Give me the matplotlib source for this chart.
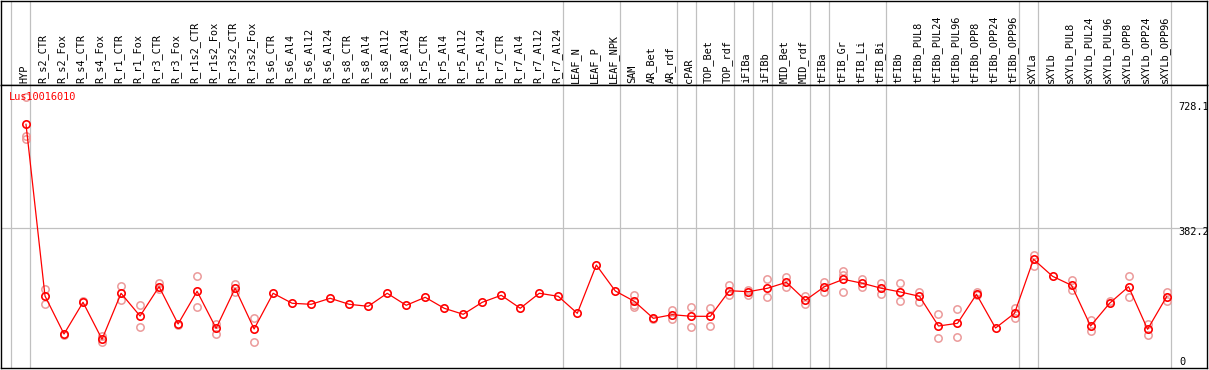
import matplotlib.pyplot as plt
from matplotlib import transforms

W, H, DPI = 1209, 370, 100

GENE = "Lus10016010"

SAMPLES = [
    "HYP", "R_s2_CTR", "R_s2_Fox", "R_s4_CTR", "R_s4_Fox", "R_r1_CTR", "R_r1_Fox",
    "R_r3_CTR", "R_r3_Fox", "R_r1s2_CTR", "R_r1s2_Fox", "R_r3s2_CTR", "R_r3s2_Fox",
    "R_s6_CTR", "R_s6_Al4", "R_s6_Al12", "R_s6_Al24", "R_s8_CTR", "R_s8_Al4",
    "R_s8_Al12", "R_s8_Al24", "R_r5_CTR", "R_r5_Al4", "R_r5_Al12", "R_r5_Al24",
    "R_r7_CTR", "R_r7_Al4", "R_r7_Al12", "R_r7_Al24", "LEAF_N", "LEAF_P", "LEAF_NPK",
    "SAM", "AR_Bet", "AR_rdf", "cPAR", "TOP_Bet", "TOP_rdf", "iFIBa", "iFIBb",
    "MID_Bet", "MID_rdf", "tFIBa", "tFIB_Gr", "tFIB_Li", "tFIB_Bi", "tFIBb",
    "tFIBb_PUL8", "tFIBb_PUL24", "tFIBb_PUL96", "tFIBb_OPP8", "tFIBb_OPP24",
    "tFIBb_OPP96", "sXYLa", "sXYLb", "sXYLb_PUL8", "sXYLb_PUL24", "sXYLb_PUL96",
    "sXYLb_OPP8", "sXYLb_OPP24", "sXYLb_OPP96",
]

# mean expression per sample
MEAN = [
    656.8, 203.4, 103.1, 186.8, 89.1, 210.6, 150.6, 228.0, 129.5, 215.8,
    118.1, 223.8, 116.3, 210.6, 184.2, 181.5, 197.4, 181.5, 176.2, 210.6,
    178.9, 200.0, 171.0, 155.1, 186.8, 205.3, 171.0, 210.6, 202.6, 157.7,
    285.3, 216.6, 189.4, 144.5, 154.1, 149.8, 149.8, 217.4, 214.8, 223.8,
    239.6, 192.1, 228.0, 247.5, 237.0, 223.8, 214.0, 202.6, 124.2, 131.3,
    207.9, 118.9, 157.7, 300.3, 255.5, 231.7, 124.2, 184.2, 228.0, 115.5,
    201.6,
]

# individual replicates (sample index, value)
REP_COL = [
    0, 0, 0, 1, 1, 2, 3, 4, 4, 5, 5, 6, 6, 7, 7, 8, 9, 9, 10, 10, 11, 11, 12, 12,
    32, 32, 32, 33, 34, 34, 35, 35, 36, 36, 37, 37, 38, 38, 39, 39, 40, 40,
    41, 41, 42, 42, 43, 43, 43, 44, 44, 45, 45, 46, 46, 47, 47, 48, 48, 49, 49,
    50, 50, 52, 52, 53, 53, 55, 55, 56, 56, 57, 58, 58, 59, 59, 60, 60,
]
REP_VAL = [
    728.1, 626.7, 617.0, 221.1, 182.3, 100.1, 191.0, 97.8, 81.2, 229.8, 192.9,
    178.9, 122.4, 238.6, 221.1, 126.0, 256.2, 175.2, 128.7, 103.9, 234.3, 214.0,
    144.5, 82.8,
    206.1, 179.7, 173.6, 141.9, 166.5, 141.9, 175.2, 122.4, 171.0, 125.0,
    232.5, 206.1, 219.3, 206.1, 247.5, 201.6, 252.8, 228.0, 203.4, 181.5,
    241.2, 213.2, 270.2, 258.9, 214.0, 248.3, 228.0, 237.0, 208.7, 238.6, 189.4,
    214.8, 188.4, 155.1, 91.7, 168.3, 95.2, 214.8, 206.1, 172.5, 144.5,
    311.7, 282.7, 245.7, 219.3, 140.1, 111.0, 191.0, 256.2, 200.0, 129.5, 100.5,
    214.8, 190.2,
]

# group separators drawn right after these sample indices
SEP_AFTER = [-1, 0, 28, 31, 34, 35, 37, 38, 39, 41, 42, 45, 52, 53, 60]

Y_MAX, Y_MID, Y_MIN = 728.1, 382.2, 0

FONT = dict(family="DejaVu Sans Mono", size=7.4)
GRID = "#c0c0c0"
RED = "#ff0000"
PINK = "#eb9a9a"

fig = plt.figure(figsize=(W / DPI, H / DPI), dpi=DPI)

# pixel layout of the frame
x0, x1 = 1, 1207
head_top, head_bot, plot_bot = 0.5, 85, 368
ax_h = fig.add_axes([x0 / W, 1 - head_bot / H, (x1 - x0) / W, (head_bot - head_top) / H])
ax = fig.add_axes([x0 / W, 1 - plot_bot / H, (x1 - x0) / W, (plot_bot - head_bot) / H])

step, first = 19.01, 26
xlim = ((x0 - first) / step, (x1 - first) / step)
for a in (ax_h, ax):
    a.set_xlim(*xlim)
    a.set_xticks([])
    a.set_yticks([])
    for s in a.spines.values():
        s.set_color("black")
        s.set_linewidth(1.0)
    for i in SEP_AFTER:
        a.axvline(i + 0.23, color=GRID, lw=0.9, zorder=0)

ax_h.set_ylim(0, 1)
lab_tr = transforms.offset_copy(ax_h.transData, fig=fig, y=2, units="dots")
for i, name in enumerate(SAMPLES):
    ax_h.text(i - 0.1, 0, name, rotation=90, ha="center", va="bottom",
              transform=lab_tr, **FONT)

ax.set_ylim(13.3, 760.6)
ax.axhline(Y_MID, color=GRID, lw=0.9, zorder=0)

xs = list(range(len(SAMPLES)))
ax.plot(REP_COL, REP_VAL, ls="none", marker="o", ms=5.3, mfc="none",
        mec=PINK, mew=1.1, zorder=2)
ax.plot(xs, MEAN, color=RED, lw=0.9, marker="o", ms=5.3, mfc="none",
        mec=RED, mew=1.2, zorder=3)

ytr = ax.get_yaxis_transform()
ax.annotate(f"{Y_MAX}", xy=(1, Y_MAX), xycoords=ytr, xytext=(-29, -10),
            textcoords="offset pixels", ha="left", va="center", **FONT)
ax.annotate(f"{Y_MID}", xy=(1, Y_MID), xycoords=ytr, xytext=(-29, -4),
            textcoords="offset pixels", ha="left", va="center", **FONT)
ax.annotate(f"{Y_MIN}", xy=(1, 0), xycoords="axes fraction", xytext=(-28, 6),
            textcoords="offset pixels", ha="left", va="center", **FONT)

fig.text(9 / W, 1 - 97 / H, GENE, color=RED, ha="left", va="center", **FONT)

fig.savefig("out.png", dpi=DPI)
